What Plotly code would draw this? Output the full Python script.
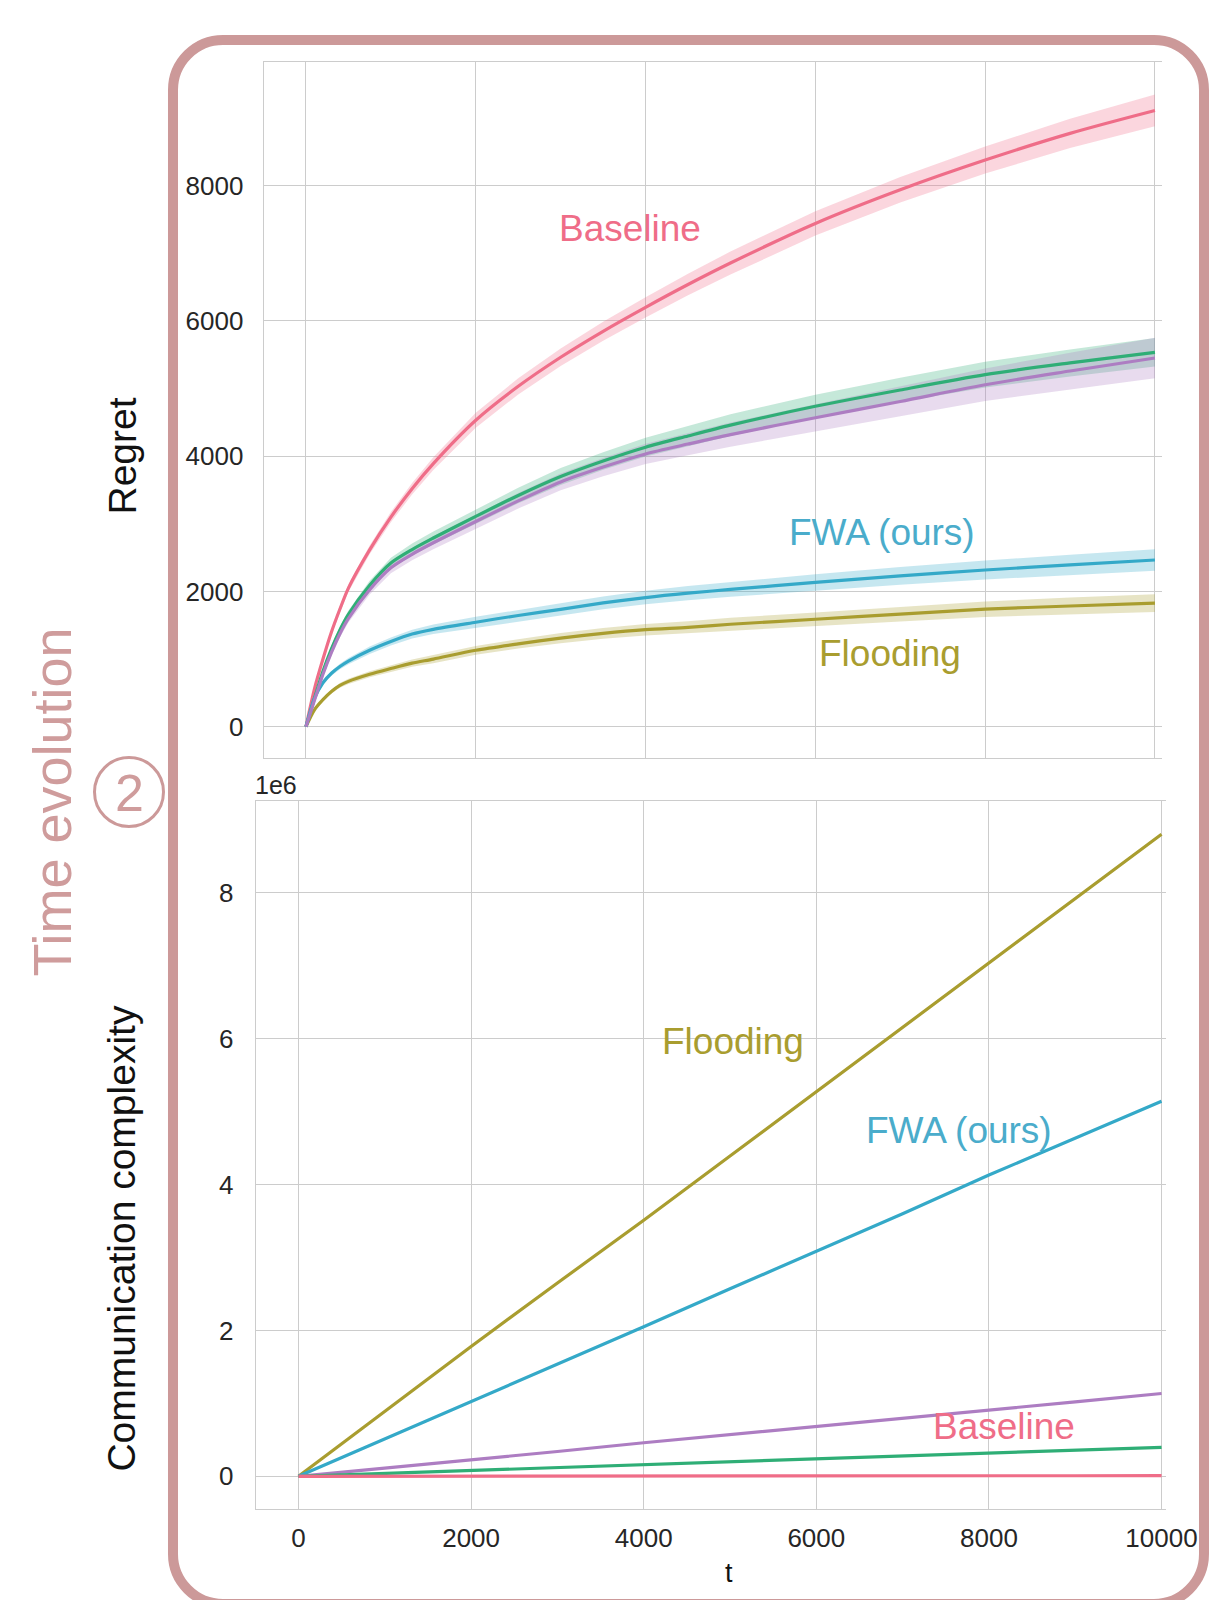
import plotly.graph_objects as go

W, H = 1209, 1600

# ---------------- data: top panel (Regret) ----------------
t_top = [0, 100, 200, 300, 400, 500, 750, 1000, 1250, 1500, 2000, 2500, 3000, 3500,
         4000, 4500, 5000, 6000, 7000, 8000, 9000, 10000]
reg_baseline = [0, 560, 1000, 1400, 1740, 2050, 2615, 3099, 3520, 3891, 4532, 5034, 5464, 5848,
                6202, 6539, 6857, 7443, 7941, 8380, 8775, 9113]
reg_green = [0, 420, 820, 1150, 1430, 1660, 2090, 2420, 2620, 2790, 3110, 3420, 3700, 3930,
             4134, 4300, 4460, 4739, 4980, 5207, 5380, 5537]
reg_purple = [0, 390, 775, 1100, 1375, 1600, 2025, 2350, 2550, 2720, 3035, 3340, 3620, 3840,
              4034, 4180, 4320, 4569, 4810, 5057, 5260, 5453]
reg_fwa = [0, 420, 650, 790, 890, 970, 1130, 1260, 1370, 1440, 1545, 1645, 1735, 1830,
           1910, 1975, 2030, 2134, 2230, 2317, 2392, 2465]
reg_flood = [0, 250, 400, 520, 610, 670, 775, 860, 940, 1000, 1130, 1225, 1310, 1380,
             1435, 1470, 1515, 1589, 1665, 1738, 1785, 1827]

spr_baseline = [0, 30, 40, 45, 50, 55, 65, 75, 85, 95, 110, 120, 130, 140, 150, 160, 170, 180, 190, 200, 215, 235]
spr_green = [0, 30, 40, 50, 55, 60, 70, 80, 90, 95, 105, 115, 125, 130, 140, 150, 160, 170, 180, 190, 200, 210]
spr_purple = [0, 30, 40, 50, 55, 60, 70, 80, 90, 95, 105, 115, 125, 135, 150, 165, 180, 200, 220, 240, 270, 300]
spr_fwa = [0, 25, 30, 35, 40, 45, 55, 60, 65, 70, 80, 85, 90, 95, 100, 105, 110, 120, 130, 140, 150, 160]
spr_flood = [0, 20, 25, 30, 35, 40, 45, 50, 55, 60, 65, 70, 75, 80, 85, 90, 95, 100, 110, 115, 125, 130]

# ---------------- data: bottom panel (Communication complexity, x1e6) ----------------
t_bot = [0, 1000, 2000, 3000, 4000, 5000, 6000, 7000, 8000, 9000, 10000]
com_flood = [0, 0.89, 1.78, 2.65, 3.51, 4.39, 5.27, 6.16, 7.04, 7.92, 8.80]
com_fwa = [0, 0.51, 1.02, 1.54, 2.05, 2.57, 3.08, 3.60, 4.13, 4.63, 5.14]
com_purple = [0, 0.11, 0.22, 0.34, 0.46, 0.57, 0.68, 0.80, 0.91, 1.02, 1.135]
com_green = [0, 0.04, 0.08, 0.12, 0.16, 0.20, 0.24, 0.28, 0.32, 0.36, 0.398]
com_baseline = [0, 0.002, 0.003, 0.004, 0.005, 0.006, 0.007, 0.007, 0.008, 0.008, 0.009]

x_ticks = [0, 2000, 4000, 6000, 8000, 10000]
x_ticklabels = ["0", "2000", "4000", "6000", "8000", "10000"]
y_top_ticks = [0, 2000, 4000, 6000, 8000]
y_top_ticklabels = ["0", "2000", "4000", "6000", "8000"]
y_bot_ticks = [0, 2, 4, 6, 8]
y_bot_ticklabels = ["0", "2", "4", "6", "8"]

# colours
C_PINK = "#ef6d88"
C_OLIVE = "#a99d2f"
C_GREEN = "#2fae76"
C_BLUE = "#34a9c8"
C_PURPLE = "#ad7dc2"
C_BOX = "#cc9999"
FONT = "Liberation Sans, Arial, sans-serif"


def rgba(hexc, a):
    h = hexc.lstrip("#")
    r, g, b = int(h[0:2], 16), int(h[2:4], 16), int(h[4:6], 16)
    return f"rgba({r},{g},{b},{a})"


def px(x):
    return x / W


def py(y):
    return 1 - y / H


fig = go.Figure()

series_top = [
    (reg_baseline, spr_baseline, C_PINK),
    (reg_flood, spr_flood, C_OLIVE),
    (reg_green, spr_green, C_GREEN),
    (reg_fwa, spr_fwa, C_BLUE),
    (reg_purple, spr_purple, C_PURPLE),
]
# confidence bands first
for vals, spr, col in series_top:
    up = [v + s for v, s in zip(vals, spr)]
    lo = [v - s for v, s in zip(vals, spr)]
    fig.add_trace(go.Scatter(x=t_top + t_top[::-1], y=up + lo[::-1], fill="toself",
                             fillcolor=rgba(col, 0.28), line=dict(width=0),
                             mode="lines", hoverinfo="skip", showlegend=False,
                             xaxis="x", yaxis="y"))
# mean lines on top
for vals, spr, col in series_top:
    fig.add_trace(go.Scatter(x=t_top, y=vals, mode="lines",
                             line=dict(color=col, width=3.2, shape="spline", smoothing=0.8),
                             showlegend=False, xaxis="x", yaxis="y"))

series_bot = [
    (com_flood, C_OLIVE),
    (com_fwa, C_BLUE),
    (com_purple, C_PURPLE),
    (com_green, C_GREEN),
    (com_baseline, C_PINK),
]
for vals, col in series_bot:
    fig.add_trace(go.Scatter(x=t_bot, y=vals, mode="lines", line=dict(color=col, width=3.2),
                             showlegend=False, xaxis="x2", yaxis="y2"))

axis_common = dict(showgrid=True, gridcolor="#cccccc", gridwidth=1.3, zeroline=False,
                   showline=True, linecolor="#cccccc", linewidth=1.3, ticks="",
                   tickfont=dict(family=FONT, size=26, color="#262626"))

fig.update_layout(
    width=W, height=H, autosize=False,
    margin=dict(l=0, r=0, t=0, b=0, pad=0, autoexpand=False),
    paper_bgcolor="white", plot_bgcolor="white",
    xaxis=dict(domain=[px(263.7), px(1161.5)], anchor="y", range=[-498, 10077],
               tickvals=x_ticks, showticklabels=False, mirror=True, automargin=False, **axis_common),
    yaxis=dict(domain=[py(758), py(62)], anchor="x", range=[-463, 9830],
               tickvals=y_top_ticks, ticktext=y_top_ticklabels, ticklabelstandoff=14,
               automargin=False, **axis_common),
    xaxis2=dict(domain=[px(255.7), px(1165.5)], anchor="y2", range=[-496, 10046],
                tickvals=x_ticks, ticktext=x_ticklabels, mirror=True, ticklabelstandoff=6,
                automargin=False, **axis_common),
    yaxis2=dict(domain=[py(1509), py(801)], anchor="x2", range=[-0.448, 9.257],
                tickvals=y_bot_ticks, ticktext=y_bot_ticklabels, ticklabelstandoff=16,
                automargin=False, **axis_common),
)

anns = [
    dict(text="Regret", x=px(122), y=py(456.5), textangle=-90, size=39, color="#111111"),
    dict(text="Communication complexity", x=px(122), y=py(1238.6), textangle=-90, size=39, color="#111111"),
    dict(text="t", x=px(728.5), y=py(1573), textangle=0, size=27, color="#111111"),
    dict(text="1e6", x=px(276), y=py(785), textangle=0, size=25, color="#262626"),
    dict(text="Baseline", x=px(629.5), y=py(229), textangle=0, size=37, color=C_PINK),
    dict(text="FWA (ours)", x=px(881.5), y=py(532), textangle=0, size=37, color="#4aaccb"),
    dict(text="Flooding", x=px(889.5), y=py(653), textangle=0, size=37, color=C_OLIVE),
    dict(text="Flooding", x=px(732.5), y=py(1041), textangle=0, size=37, color=C_OLIVE),
    dict(text="FWA (ours)", x=px(959), y=py(1130), textangle=0, size=37, color="#4aaccb"),
    dict(text="Baseline", x=px(1004), y=py(1426), textangle=0, size=37, color=C_PINK),
    dict(text="Time evolution", x=px(51), y=py(802.5), textangle=-90, size=54, color="#cf9c9c"),
    dict(text="2", x=px(129.5), y=py(792.5), textangle=0, size=52, color="#cf9c9c"),
]
for a in anns:
    fig.add_annotation(text=a["text"], x=a["x"], y=a["y"], xref="paper", yref="paper",
                       xanchor="center", yanchor="middle", showarrow=False,
                       textangle=a["textangle"],
                       font=dict(family=FONT, size=a["size"], color=a["color"]))

# rounded frame
L, T, R, B, r = 173, 40, 1204, 1604, 50
k = 0.5523 * r
pts = [
    ("M", [(L, T + r)]),
    ("C", [(L, T + r - k), (L + r - k, T), (L + r, T)]),
    ("L", [(R - r, T)]),
    ("C", [(R - r + k, T), (R, T + r - k), (R, T + r)]),
    ("L", [(R, B - r)]),
    ("C", [(R, B - r + k), (R - r + k, B), (R - r, B)]),
    ("L", [(L + r, B)]),
    ("C", [(L + r - k, B), (L, B - r + k), (L, B - r)]),
]
path = ""
for cmd, ps in pts:
    path += cmd + " " + " ".join(f"{px(x):.5f},{py(y):.5f}" for x, y in ps) + " "
path += "Z"
fig.add_shape(type="path", path=path, xref="paper", yref="paper",
              line=dict(color=C_BOX, width=10), layer="below")

# circle around "2"
fig.add_shape(type="circle", xref="paper", yref="paper",
              x0=px(129 - 34.5), x1=px(129 + 34.5), y0=py(792 + 34.5), y1=py(792 - 34.5),
              line=dict(color=C_BOX, width=3))

fig.write_html(
    "out.html",
    config={"responsive": False, "displayModeBar": False},
    post_script="document.body.style.margin='0px';document.body.style.overflow='hidden';",
)
